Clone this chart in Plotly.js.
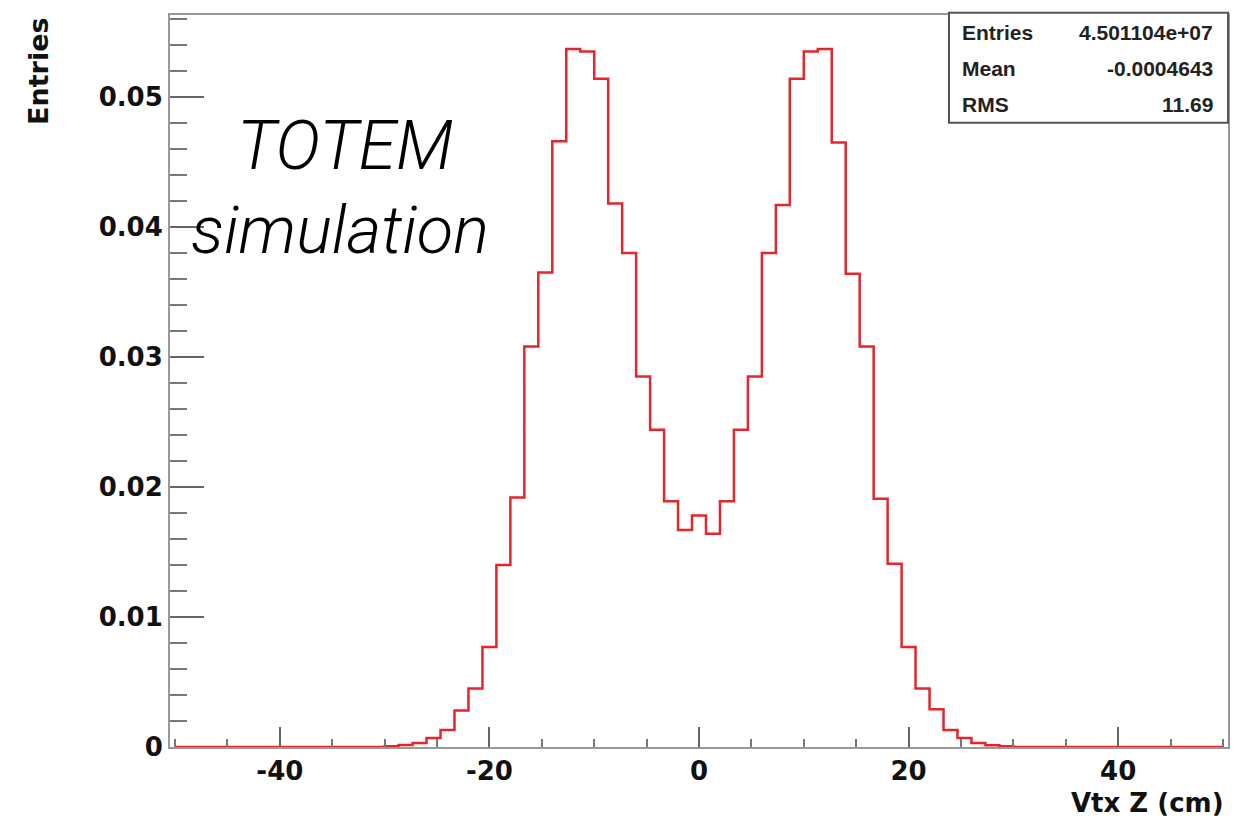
<!DOCTYPE html>
<html>
<head>
<meta charset="utf-8">
<script src="https://cdn.plot.ly/plotly-3.0.1.min.js"></script>
<style>html,body{margin:0;padding:0;background:#fff;}#chart{width:1238px;height:822px;}</style>
</head>
<body>
<div id="chart"></div>
<script>
// Histogram definition (ROOT-style TH1: 75 bins from -50 to 50 cm)
const binLow = -50;
const binHigh = 50;
const nBins = 75;
// Normalised entries per bin
const entries = [
  0, 0, 0, 0, 0, 0, 0, 0, 0, 0, 0, 0, 0, 0, 0,
  0.00005, 0.00015, 0.0003, 0.0007, 0.0013, 0.0028, 0.0045, 0.0077, 0.0140, 0.0192,
  0.0308, 0.0365, 0.0466, 0.0537, 0.0535, 0.0514, 0.0418, 0.0380, 0.0285, 0.0244,
  0.0189, 0.0167, 0.0178, 0.0164, 0.0189, 0.0244, 0.0285, 0.0380, 0.0417, 0.0514,
  0.0535, 0.0537, 0.0465, 0.0364, 0.0308, 0.0191, 0.0141, 0.0077, 0.0045, 0.0029,
  0.0013, 0.0007, 0.0003, 0.00013, 0.00005,
  0, 0, 0, 0, 0, 0, 0, 0, 0, 0, 0, 0, 0, 0, 0
];
const xTickVals = [-40, -20, 0, 20, 40];
const xTickText = ['-40', '-20', '0', '20', '40'];
const statsLabels = ['Entries', 'Mean', 'RMS'];
const statsValues = ['4.501104e+07', '-0.0004643', '11.69'];
const xTitle = 'Vtx Z (cm)';
const yTitle = 'Entries';
const labelLines = ['TOTEM', 'simulation'];

// bin edges and step outline
const binWidth = (binHigh - binLow) / nBins;
const edges = [];
for (let i = 0; i <= nBins; i++) edges.push(binLow + i * binWidth);
const stepY = entries.concat([entries[entries.length - 1]]);

// pixel -> paper helpers for the fixed 1238x822 layout
const L = 170, R = 1228, T = 15, B = 746.7;
const px = v => (v - L) / (R - L);
const py = v => (B - v) / (B - T);

const tickFont = {family: 'DejaVu Sans', size: 26, color: '#111', weight: 'bold'};
const statFont = {family: 'Liberation Sans', size: 21, color: '#222', weight: 'bold'};

const annotations = [
  {text: yTitle, xref: 'paper', yref: 'paper', x: px(38), y: py(15), xanchor: 'center', yanchor: 'top',
   textangle: -90, showarrow: false, font: {family: 'DejaVu Sans', size: 27, color: '#111', weight: 'bold'}},
  {text: xTitle, xref: 'paper', yref: 'paper', x: px(1226), y: py(803), xanchor: 'right', yanchor: 'middle',
   showarrow: false, font: {family: 'DejaVu Sans', size: 26, color: '#111', weight: 'bold'}},
  {text: labelLines[0], xref: 'paper', yref: 'paper', x: px(345), y: py(146), xanchor: 'center', yanchor: 'middle',
   showarrow: false, font: {family: 'Roboto', size: 68, color: '#000', weight: 300, style: 'italic'}},
  {text: labelLines[1], xref: 'paper', yref: 'paper', x: px(340), y: py(230), xanchor: 'center', yanchor: 'middle',
   showarrow: false, font: {family: 'Roboto', size: 67, color: '#000', weight: 300, style: 'italic'}}
];
const rowY = [32, 68, 104];
statsLabels.forEach((lab, i) => {
  annotations.push({text: lab, xref: 'paper', yref: 'paper', x: px(960), y: py(rowY[i]), xanchor: 'left', yanchor: 'middle', showarrow: false, font: statFont});
  annotations.push({text: statsValues[i], xref: 'paper', yref: 'paper', x: px(1215), y: py(rowY[i]), xanchor: 'right', yanchor: 'middle', showarrow: false, font: statFont});
});

const trace = {
  type: 'scatter', mode: 'lines', x: edges, y: stepY,
  line: {shape: 'hv', color: '#e3262d', width: 2.5},
  cliponaxis: false, hoverinfo: 'x+y', showlegend: false
};

const layout = {
  width: 1238, height: 822,
  margin: {l: L, r: 1238 - R, t: T, b: 822 - B},
  paper_bgcolor: '#fff', plot_bgcolor: '#fff',
  showlegend: false,
  xaxis: {
    range: [-50.48, 50.48], showgrid: false, zeroline: false,
    showline: true, linecolor: '#999', linewidth: 2, mirror: true,
    tickmode: 'array', tickvals: xTickVals, ticktext: xTickText,
    ticks: 'inside', ticklen: 20, tickwidth: 2, tickcolor: '#666',
    tickfont: tickFont,
    minor: {tickmode: 'linear', tick0: 0, dtick: 5, ticks: 'inside', ticklen: 8, tickwidth: 2, tickcolor: '#777', showgrid: false}
  },
  yaxis: {
    range: [0, 0.05631], showgrid: false, zeroline: false,
    showline: true, linecolor: '#999', linewidth: 2, mirror: true,
    tickmode: 'linear', tick0: 0, dtick: 0.01,
    ticks: 'inside', ticklen: 34, tickwidth: 2, tickcolor: '#666',
    tickfont: tickFont,
    minor: {tickmode: 'linear', tick0: 0, dtick: 0.002, ticks: 'inside', ticklen: 17, tickwidth: 2, tickcolor: '#777', showgrid: false}
  },
  shapes: [
    {type: 'rect', xref: 'paper', yref: 'paper', x0: px(949), x1: px(1228), y0: py(122.7), y1: py(12.7),
     fillcolor: '#fff', line: {color: '#555', width: 2}, layer: 'above'}
  ],
  annotations: annotations
};

Plotly.newPlot('chart', [trace], layout, {displayModeBar: false, staticPlot: true});
</script>
</body>
</html>
